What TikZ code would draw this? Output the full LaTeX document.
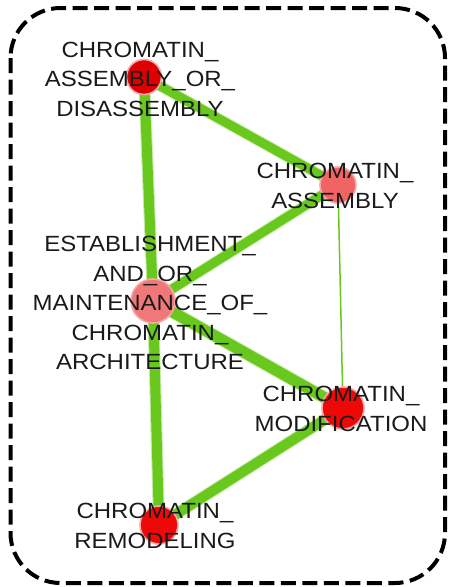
\documentclass[tikz,border=0pt]{standalone}
\usepackage{fontspec}
\setmainfont{Liberation Sans}[FakeStretch=1.09]
\usetikzlibrary{backgrounds}
\definecolor{linkgreen}{RGB}{104,200,30}
\definecolor{glowgreen}{RGB}{170,225,120}
\definecolor{deepred}{RGB}{222,0,0}
\definecolor{brightred}{RGB}{238,8,8}
\definecolor{softred}{RGB}{240,100,100}
\definecolor{salmon}{RGB}{240,120,120}
\definecolor{halo}{RGB}{245,170,170}
\definecolor{labelgray}{RGB}{26,26,26}
\begin{document}
\begin{tikzpicture}[x=1pt,y=-1pt,
  gene/.style={circle,inner sep=0pt,minimum size=#1,draw=halo,line width=1.6pt},
  term/.style={align=center,inner sep=0pt,text=labelgray,
    font=\fontsize{22pt}{29.5pt}\selectfont},
  link/.style={draw=linkgreen,line width=#1,
    preaction={draw=glowgreen,line width=#1+2pt,opacity=0.6}},
  frame/.style={draw=black,line width=4pt,dash pattern=on 15pt off 6.5pt,
    rounded corners=50pt}]
\useasboundingbox (0,0) rectangle (448,587);

% outer dashed frame
\draw[frame] (10.5,8) rectangle (445,583);

% term circles
\node[gene=35pt,fill=deepred]   (nA) at (144,77)  {};
\node[gene=36pt,fill=softred]   (nB) at (338,185) {};
\node[gene=44pt,fill=salmon]    (nC) at (153,301) {};
\node[gene=42pt,fill=brightred] (nD) at (343,408) {};
\node[gene=38pt,fill=brightred] (nE) at (159,525) {};

% similarity links, kept beneath the circles
\begin{scope}[on background layer]
  \draw[link=9pt]   (nA.center) -- (nB.center);
  \draw[link=10pt]  (nA.center) -- (nC.center);
  \draw[link=9pt]   (nB.center) -- (nC.center);
  \draw[draw=linkgreen,line width=1.5pt] (nB.center) -- (nD.center);
  \draw[link=11pt]  (nC.center) -- (nD.center);
  \draw[link=10pt]  (nC.center) -- (nE.center);
  \draw[link=10pt]  (nD.center) -- (nE.center);
\end{scope}

% term labels
\node[term] (lA) at (140,79)  {CHROMATIN\_\\ASSEMBLY\_OR\_\\DISASSEMBLY};
\node[term] (lB) at (335,186) {CHROMATIN\_\\ASSEMBLY};
\node[term] (lC) at (150,303) {ESTABLISHMENT\_\\AND\_OR\_\\MAINTENANCE\_OF\_\\CHROMATIN\_\\ARCHITECTURE};
\node[term] (lD) at (341,409) {CHROMATIN\_\\MODIFICATION};
\node[term] (lE) at (155,526) {CHROMATIN\_\\REMODELING};
\end{tikzpicture}
\end{document}
